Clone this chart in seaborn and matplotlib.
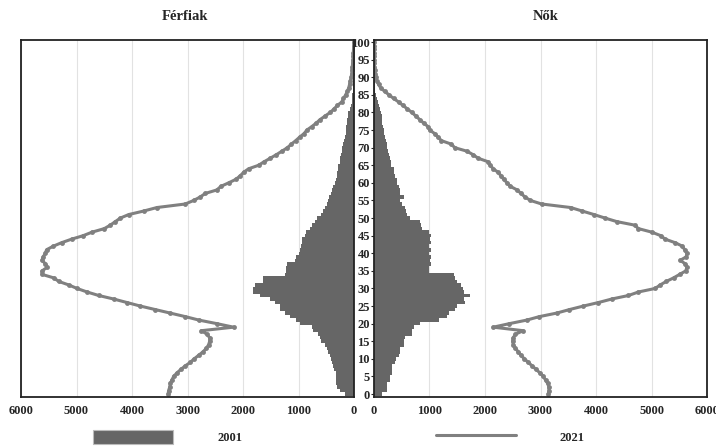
import numpy as np
import pandas as pd
import matplotlib.pyplot as plt
import seaborn as sns
from matplotlib.patches import Patch
from matplotlib.lines import Line2D

ages = list(range(0, 101))

# 2001 (bars)
male_2001 = [160, 250, 300, 320, 320, 320, 330, 360, 380, 400,
             410, 430, 470, 490, 520, 600, 620, 640, 740, 760,
             970, 1050, 1150, 1250, 1330, 1330, 1420, 1510, 1700, 1820,
             1820, 1780, 1640, 1640, 1240, 1230, 1230, 1200, 1060, 1050,
             1000, 970, 960, 930, 930, 880, 860, 800, 760, 700,
             660, 600, 560, 520, 490, 460, 450, 420, 390, 370,
             340, 320, 310, 300, 290, 280, 260, 250, 240, 220,
             210, 200, 180, 170, 150, 150, 140, 130, 120, 110,
             100, 80, 60, 40, 40, 30, 25, 20, 20, 15,
             12, 10, 8, 6, 5, 4, 3, 2, 2, 1, 1]
female_2001 = [150, 240, 240, 250, 300, 300, 330, 330, 340, 390,
               400, 460, 480, 480, 540, 540, 560, 690, 700, 720,
               840, 1170, 1320, 1350, 1470, 1500, 1650, 1620, 1740, 1620,
               1600, 1580, 1500, 1460, 1440, 990, 1000, 1030, 1010, 1040,
               1000, 1040, 990, 1030, 1020, 1030, 1000, 870, 860, 840,
               660, 600, 590, 560, 520, 470, 540, 470, 480, 450,
               430, 420, 390, 370, 360, 320, 310, 300, 280, 260,
               250, 240, 220, 200, 190, 180, 170, 160, 150, 150,
               140, 110, 100, 80, 60, 40, 35, 30, 25, 20,
               18, 15, 12, 10, 8, 6, 5, 4, 3, 2, 1]

# 2021 (line)
male_2021 = [3350, 3340, 3320, 3310, 3280, 3250, 3190, 3120, 3040, 2950,
             2880, 2800, 2720, 2660, 2620, 2600, 2600, 2650, 2750, 2170,
             2470, 2790, 3040, 3310, 3580, 3850, 4090, 4330, 4600, 4810,
             4990, 5140, 5320, 5410, 5620, 5620, 5530, 5560, 5620, 5600,
             5560, 5540, 5420, 5270, 5090, 4880, 4720, 4500, 4390, 4300,
             4210, 4060, 3790, 3550, 3040, 2890, 2770, 2680, 2470, 2400,
             2260, 2130, 2050, 1990, 1900, 1720, 1620, 1510, 1400, 1300,
             1200, 1130, 1050, 980, 900, 850, 760, 680, 610, 520,
             430, 360, 300, 220, 190, 150, 120, 95, 80, 65,
             50, 42, 36, 30, 25, 20, 16, 12, 9, 6, 5]
female_2021 = [3140, 3150, 3150, 3130, 3090, 3050, 2990, 2920, 2850, 2780,
               2710, 2650, 2600, 2550, 2510, 2500, 2510, 2550, 2690, 2150,
               2440, 2750, 2980, 3290, 3520, 3770, 4040, 4280, 4580, 4760,
               5060, 5150, 5260, 5390, 5500, 5610, 5630, 5600, 5510, 5620,
               5630, 5590, 5550, 5420, 5240, 5160, 5000, 4760, 4690, 4370,
               4160, 3960, 3750, 3540, 3020, 2820, 2720, 2650, 2580, 2460,
               2400, 2340, 2290, 2240, 2150, 2100, 2060, 1880, 1790, 1680,
               1460, 1400, 1220, 1160, 1100, 1010, 980, 900, 830, 760,
               690, 610, 530, 450, 360, 280, 200, 130, 90, 60,
               40, 28, 20, 15, 11, 8, 6, 4, 3, 2, 1]

bar_color = '#666666'
line_color = '#808080'

sns.set_style('white')
plt.rcParams['font.family'] = ['Liberation Serif', 'DejaVu Serif']
plt.rcParams['font.weight'] = 'bold'

fig = plt.figure(figsize=(7.16, 4.46), dpi=100)
axL = fig.add_axes([21 / 716, 49.5 / 446, 333 / 716, 356.5 / 446])
axR = fig.add_axes([373.5 / 716, 49.5 / 446, 334 / 716, 356.5 / 446])

for ax, bars, line in [(axL, male_2001, male_2021), (axR, female_2001, female_2021)]:
    sns.barplot(x=bars, y=ages, orient='h', native_scale=True, width=1,
                color=bar_color, saturation=1, errorbar=None, linewidth=0, ax=ax)
    sns.lineplot(x=line, y=ages, orient='y', sort=False, color=line_color,
                 linewidth=2.2, marker='o', markersize=3.5, markeredgewidth=0, ax=ax)
    ax.set_ylim(-0.7, 100.6)
    ax.set_xticks(range(0, 7000, 1000))
    ax.set_xticklabels([str(v) for v in range(0, 7000, 1000)], fontsize=9, fontweight='bold')
    ax.tick_params(axis='x', length=0, pad=6)
    ax.set_axisbelow(True)
    ax.xaxis.grid(True, color='#e2e2e2', linewidth=0.8)
    ax.yaxis.grid(False)
    ax.set_xlabel('')
    ax.set_ylabel('')
    for s in ax.spines.values():
        s.set_color('#222222')
        s.set_linewidth(1.3)

axL.set_xlim(6000, 0)
axL.set_yticks([])
axR.set_xlim(0, 6000)
axR.set_yticks(range(0, 101, 5))
axR.set_yticklabels([str(v) for v in range(0, 101, 5)], fontsize=9, fontweight='bold')
axR.tick_params(axis='y', length=2, width=0.8, pad=0.5, left=True)

fig.text(185 / 716, 1 - 17 / 446, 'Férfiak', ha='center', va='center', fontsize=10.5, fontweight='bold')
fig.text(546 / 716, 1 - 17 / 446, 'Nők', ha='center', va='center', fontsize=10.5, fontweight='bold')

handles = [Patch(facecolor=bar_color, edgecolor='#bbbbbb', linewidth=0.8),
           Line2D([], [], color=line_color, linewidth=2.2)]
fig.legend(handles, ['2001', '2021'], loc='center', bbox_to_anchor=(339 / 716, 9 / 446),
           ncol=2, frameon=False, handlelength=6.4, handleheight=1.4,
           handletextpad=3.5, columnspacing=15.5, prop={'weight': 'bold', 'size': 9})

fig.savefig('out.png', dpi=100)
